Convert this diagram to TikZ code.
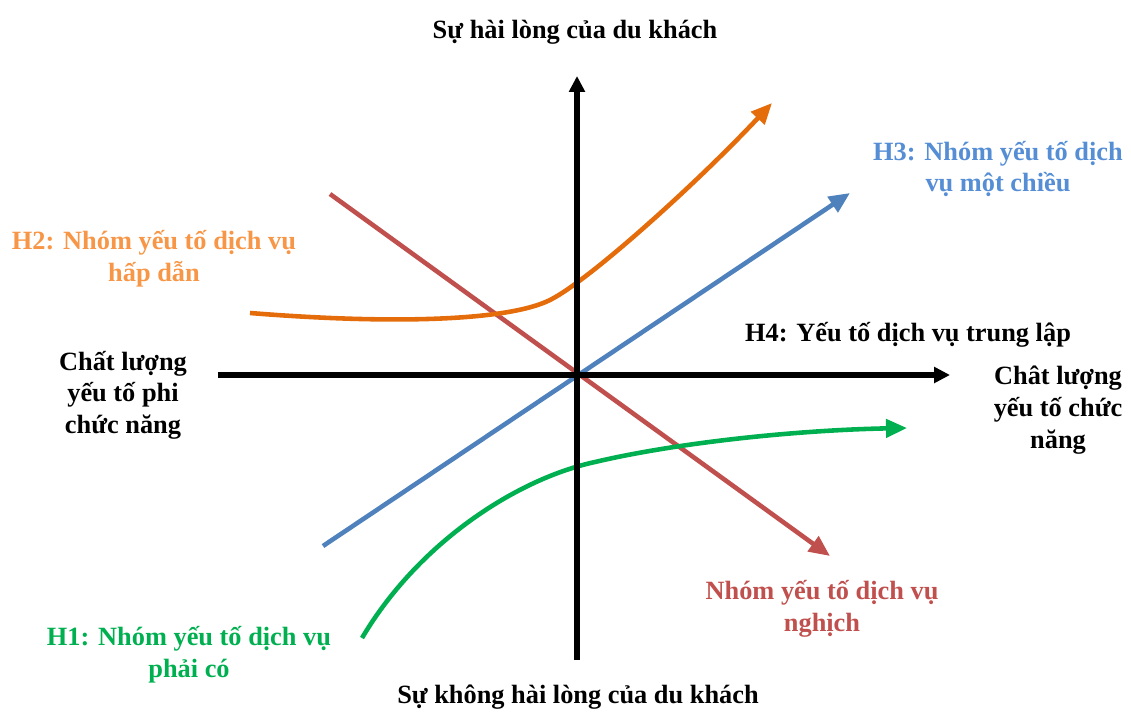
\documentclass[tikz,border=0pt]{standalone}
\usepackage{fontspec}
\setmainfont{Liberation Serif}
\usepackage{xcolor}
\usetikzlibrary{arrows.meta}
\definecolor{hOrange}{HTML}{E46C0A}
\definecolor{hOrangeTxt}{HTML}{F79646}
\definecolor{hBlue}{HTML}{4F81BD}
\definecolor{hBlueTxt}{HTML}{558ED5}
\definecolor{hRed}{HTML}{C0504D}
\definecolor{hGreen}{HTML}{00B050}
\tikzset{
  axis/.style={-{Triangle[length=3.2mm,width=3.1mm]},line width=3.1pt,draw=black},
  curve/.style={-{Triangle[length=4.2mm,width=3.6mm]},line width=2.6pt},
  lbl/.style={font=\fontsize{15}{18}\selectfont\bfseries,align=center,inner sep=0pt,text=black}
}

\begin{document}
\begin{tikzpicture}[x=0.02cm,y=-0.02cm]
\useasboundingbox (0,0) rectangle (1131,713);

% end points of the axes and curves
\coordinate (xl) at (218,375); \coordinate (xr) at (950,375);
\coordinate (yb) at (577,660); \coordinate (yt) at (577,76);
\coordinate (neg0) at (330,194); \coordinate (neg1) at (830,556);
\coordinate (one0) at (323,546); \coordinate (one1) at (850,193);
\coordinate (att0) at (250,313); \coordinate (att1) at (772,103);
\coordinate (must0) at (362,638); \coordinate (must1) at (907,428);

% hypothesis curves
\draw[curve,draw=hRed] (neg0) -- (neg1);
\draw[curve,draw=hBlue] (one0) -- (one1);
\draw[curve,draw=hOrange] (att0) .. controls (400,325) and (510,320) .. (550,300)
  .. controls (590,280) and (700,180) .. (att1);
\draw[curve,draw=hGreen] (must0) .. controls (420,540) and (520,478) .. (595,462)
  .. controls (680,442) and (800,430) .. (must1);

% axes
\draw[axis] (xl) -- (xr);
\draw[axis] (yb) -- (yt);

% labels
\node[lbl] (sat) at (575,32) {Sự hài lòng của du khách};
\node[lbl] (dissat) at (578,697) {Sự không hài lòng của du khách};
\node[lbl] (nonfunc) at (123,395) {Chất lượng\\yếu tố phi\\chức năng};
\node[lbl] (func) at (1058,410) {Chât lượng\\yếu tố chức\\năng};
\node[lbl] (neutral) at (908,335) {H4: Yếu tố dịch vụ trung lập};
\node[lbl,text=hOrangeTxt] (attractive) at (154,259) {H2: Nhóm yếu tố dịch vụ\\hấp dẫn};
\node[lbl,text=hBlueTxt] (onedim) at (998,169) {H3: Nhóm yếu tố dịch\\vụ một chiều};
\node[lbl,text=hRed] (reverse) at (822,609) {Nhóm yếu tố dịch vụ\\nghịch};
\node[lbl,text=hGreen] (mustbe) at (189,655) {H1: Nhóm yếu tố dịch vụ\\phải có};
\end{tikzpicture}
\end{document}
